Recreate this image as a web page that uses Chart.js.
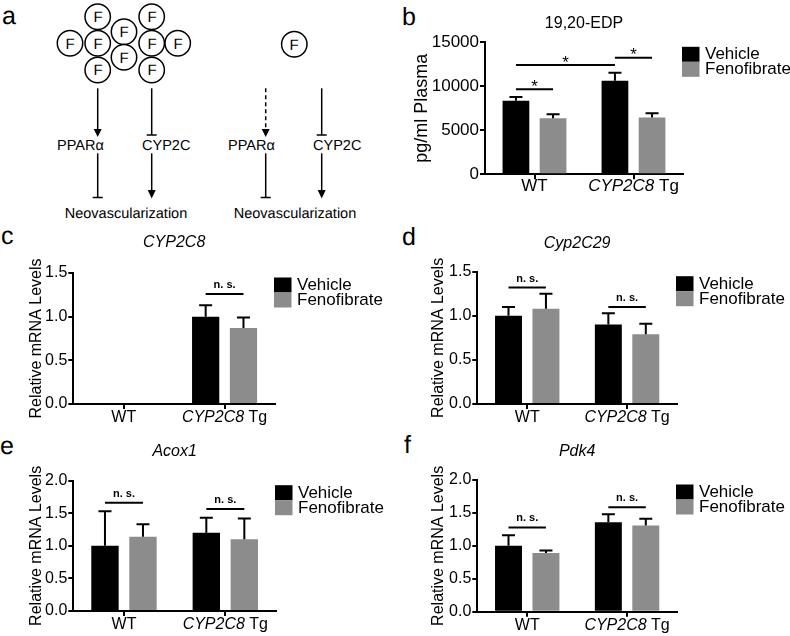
<!DOCTYPE html>
<html>
<head>
<meta charset="utf-8">
<script src="https://cdn.jsdelivr.net/npm/chart.js@4.4.1/dist/chart.umd.min.js"></script>
<style>
  html, body { margin: 0; padding: 0; background: #fff; }
  #fig { position: relative; width: 790px; height: 636px; overflow: hidden; font-family: "Liberation Sans", Arial, sans-serif; }
  #fig canvas { position: absolute; }
  #fig svg { position: absolute; left: 0; top: 0; }
  #fig svg text { fill: #000; }
</style>
</head>
<body>
<div id="fig">
  <svg width="790" height="636" font-family="Liberation Sans, Arial, sans-serif" text-rendering="geometricPrecision">
    <!-- letras de panel -->
    <g font-size="25">
      <text x="2" y="23.5">a</text>
      <text x="402" y="25">b</text>
      <text x="1" y="243.5">c</text>
      <text x="402" y="245">d</text>
      <text x="0" y="453.5">e</text>
      <text x="404" y="453">f</text>
    </g>
    <!-- esquema a -->
    <g stroke="#000" stroke-width="1.5" fill="#fff">
      <circle cx="97.7" cy="16.7" r="12.7"/>
      <circle cx="151.7" cy="16.7" r="12.7"/>
      <circle cx="124" cy="31.7" r="12.7"/>
      <circle cx="70" cy="43.3" r="12.7"/>
      <circle cx="97.7" cy="43.3" r="12.7"/>
      <circle cx="151.7" cy="43.3" r="12.7"/>
      <circle cx="177.7" cy="43.3" r="12.7"/>
      <circle cx="124" cy="57.3" r="12.7"/>
      <circle cx="97.7" cy="70" r="12.7"/>
      <circle cx="151.7" cy="70" r="12.7"/>
      <circle cx="294.3" cy="44.3" r="12.7"/>
    </g>
    <g font-size="15" text-anchor="middle">
      <text x="98" y="22">F</text>
      <text x="152" y="22">F</text>
      <text x="124" y="37">F</text>
      <text x="70" y="48.6">F</text>
      <text x="98" y="48.6">F</text>
      <text x="152" y="48.6">F</text>
      <text x="178" y="48.6">F</text>
      <text x="124" y="62.6">F</text>
      <text x="98" y="75.3">F</text>
      <text x="152" y="75.3">F</text>
      <text x="294" y="49.6">F</text>
    </g>
    <g stroke="#000" stroke-width="1.5" fill="none">
      <line x1="97.7" y1="88.3" x2="97.7" y2="130"/>
      <line x1="97.7" y1="153.3" x2="97.7" y2="197.5"/>
      <line x1="92.7" y1="197.5" x2="102.7" y2="197.5"/>
      <line x1="151.7" y1="88.3" x2="151.7" y2="135"/>
      <line x1="146.7" y1="135" x2="156.7" y2="135"/>
      <line x1="151.7" y1="153.3" x2="151.7" y2="191"/>
      <line x1="265.7" y1="88.3" x2="265.7" y2="130" stroke-dasharray="4 3"/>
      <line x1="265.7" y1="153.3" x2="265.7" y2="197.5"/>
      <line x1="260.7" y1="197.5" x2="270.7" y2="197.5"/>
      <line x1="321.7" y1="88.3" x2="321.7" y2="135"/>
      <line x1="316.7" y1="135" x2="326.7" y2="135"/>
      <line x1="321.7" y1="153.3" x2="321.7" y2="191"/>
    </g>
    <g fill="#000">
      <polygon points="93.7,129 101.7,129 97.7,137"/>
      <polygon points="147.7,190 155.7,190 151.7,198.5"/>
      <polygon points="261.7,129 269.7,129 265.7,137"/>
      <polygon points="317.7,190 325.7,190 321.7,198.5"/>
    </g>
    <g font-size="14.5">
      <text x="57" y="150.3">PPARα</text>
      <text x="142" y="150.3">CYP2C</text>
      <text x="228" y="150.3">PPARα</text>
      <text x="313" y="150.3">CYP2C</text>
      <text x="126" y="218" text-anchor="middle">Neovascularization</text>
      <text x="295" y="218" text-anchor="middle">Neovascularization</text>
    </g>
  </svg>
  <canvas id="panelB" width="390" height="205" style="left:400px;top:0px"></canvas>
  <canvas id="panelC" width="395" height="225" style="left:0px;top:210px"></canvas>
  <canvas id="panelD" width="395" height="225" style="left:395px;top:210px"></canvas>
  <canvas id="panelE" width="395" height="206" style="left:0px;top:430px"></canvas>
  <canvas id="panelF" width="395" height="206" style="left:395px;top:430px"></canvas>
</div>
<script>
const fam = '"Liberation Sans", Arial, sans-serif';
Chart.defaults.font.family = fam;
Chart.defaults.color = '#000';

const grupos = ['WT', 'CYP2C8 Tg'];
const series = ['Vehicle', 'Fenofibrate'];
const colores = ['#000000', '#8c8c8c'];

// b - 19,20-EDP (pg/ml)
const edpVehiculo = [8370, 10640];
const edpVehiculoErr = [420, 900];
const edpFeno = [6370, 6450];
const edpFenoErr = [450, 500];
const edpTicks = [0, 5000, 10000, 15000];
const edpSig = [
  { de: [0, 0], a: [1, 0], y: 9660, txt: '*' },
  { de: [0, 0], a: [0, 1], y: 12420, txt: '*' },
  { de: [0, 1], a: [1, 1], y: 13250, txt: '*' }
];

// c - CYP2C8
const cyp8Vehiculo = [null, 1.0];
const cyp8VehiculoErr = [null, 0.13];
const cyp8Feno = [null, 0.87];
const cyp8FenoErr = [null, 0.12];
const cyp8Sig = [{ de: [0, 1], a: [1, 1], y: 1.26, txt: 'n. s.' }];

// d - Cyp2C29
const cyp29Vehiculo = [1.0, 0.90];
const cyp29VehiculoErr = [0.10, 0.13];
const cyp29Feno = [1.08, 0.79];
const cyp29FenoErr = [0.17, 0.12];
const cyp29Sig = [
  { de: [0, 0], a: [1, 0], y: 1.32, txt: 'n. s.' },
  { de: [0, 1], a: [1, 1], y: 1.10, txt: 'n. s.' }
];

// e - Acox1
const acoxVehiculo = [1.0, 1.20];
const acoxVehiculoErr = [0.53, 0.23];
const acoxFeno = [1.14, 1.10];
const acoxFenoErr = [0.19, 0.32];
const acoxSig = [
  { de: [0, 0], a: [1, 0], y: 1.66, txt: 'n. s.' },
  { de: [0, 1], a: [1, 1], y: 1.565, txt: 'n. s.' }
];

// f - Pdk4
const pdkVehiculo = [1.0, 1.36];
const pdkVehiculoErr = [0.16, 0.12];
const pdkFeno = [0.89, 1.31];
const pdkFenoErr = [0.04, 0.10];
const pdkSig = [
  { de: [0, 0], a: [1, 0], y: 1.28, txt: 'n. s.' },
  { de: [0, 1], a: [1, 1], y: 1.585, txt: 'n. s.' }
];

const ticks15 = [0, 0.5, 1.0, 1.5];
const ticks20 = [0, 0.5, 1.0, 1.5, 2.0];

const paneles = [
  { id: 'panelB', cx: 400, cy: 0, area: { L: 485, T: 42.3, R: 683, B: 174.3 },
    vehiculo: edpVehiculo, feno: edpFeno, errores: [edpVehiculoErr, edpFenoErr], ticks: edpTicks, signif: edpSig,
    titulo: '19,20-EDP', italica: false, tituloDy: -19, tituloY: 'pg/ml Plasma', tituloYx: 422,
    fontTituloY: 18, fontEje: 17, etiquetaDy: 12, formato: v => String(v) },
  { id: 'panelC', cx: 0, cy: 210, area: { L: 73.3, T: 273, R: 275, B: 404 },
    vehiculo: cyp8Vehiculo, feno: cyp8Feno, errores: [cyp8VehiculoErr, cyp8FenoErr], ticks: ticks15, signif: cyp8Sig,
    titulo: 'CYP2C8', italica: true, tituloDy: -30, tituloY: 'Relative mRNA Levels', tituloYx: 37,
    fontTituloY: 16, fontEje: 16, etiquetaDy: 14, formato: v => v.toFixed(1) },
  { id: 'panelD', cx: 395, cy: 210, area: { L: 477.3, T: 271.7, R: 677, B: 404 },
    vehiculo: cyp29Vehiculo, feno: cyp29Feno, errores: [cyp29VehiculoErr, cyp29FenoErr], ticks: ticks15, signif: cyp29Sig,
    titulo: 'Cyp2C29', italica: true, tituloDy: -28.5, tituloY: 'Relative mRNA Levels', tituloYx: 439,
    fontTituloY: 16, fontEje: 16, etiquetaDy: 14, formato: v => v.toFixed(1) },
  { id: 'panelE', cx: 0, cy: 430, area: { L: 73.3, T: 480.7, R: 276, B: 611 },
    vehiculo: acoxVehiculo, feno: acoxFeno, errores: [acoxVehiculoErr, acoxFenoErr], ticks: ticks20, signif: acoxSig,
    titulo: 'Acox1', italica: true, tituloDy: -29, tituloY: 'Relative mRNA Levels', tituloYx: 37,
    fontTituloY: 16, fontEje: 16, etiquetaDy: 14, formato: v => v.toFixed(1) },
  { id: 'panelF', cx: 395, cy: 430, area: { L: 477.3, T: 480, R: 677, B: 611.7 },
    vehiculo: pdkVehiculo, feno: pdkFeno, errores: [pdkVehiculoErr, pdkFenoErr], ticks: ticks20, signif: pdkSig,
    titulo: 'Pdk4', italica: true, tituloDy: -28.5, tituloY: 'Relative mRNA Levels', tituloYx: 439,
    fontTituloY: 16, fontEje: 16, etiquetaDy: 14, formato: v => v.toFixed(1) }
];

// barras de error, lineas de significancia, titulo, etiquetas x y leyenda
function decoracion(p) {
  return {
    id: 'deco' + p.id,
    afterDatasetsDraw(chart) {
      const ctx = chart.ctx;
      const y = chart.scales.y;
      ctx.save();
      ctx.strokeStyle = '#000';
      ctx.fillStyle = '#000';
      ctx.lineWidth = 2;

      chart.data.datasets.forEach((ds, di) => {
        const meta = chart.getDatasetMeta(di);
        meta.data.forEach((bar, i) => {
          const v = ds.data[i];
          const e = p.errores[di][i];
          if (v == null || e == null) return;
          const yTop = y.getPixelForValue(v + e);
          ctx.beginPath();
          ctx.moveTo(bar.x, bar.y);
          ctx.lineTo(bar.x, yTop);
          ctx.moveTo(bar.x - 6.5, yTop);
          ctx.lineTo(bar.x + 6.5, yTop);
          ctx.stroke();
        });
      });

      p.signif.forEach(s => {
        const b1 = chart.getDatasetMeta(s.de[0]).data[s.de[1]];
        const b2 = chart.getDatasetMeta(s.a[0]).data[s.a[1]];
        const yy = y.getPixelForValue(s.y);
        const mid = (b1.x + b2.x) / 2;
        ctx.beginPath();
        ctx.moveTo(b1.x, yy);
        ctx.lineTo(b2.x, yy);
        ctx.stroke();
        ctx.textAlign = 'center';
        if (s.txt === '*') {
          ctx.font = '17px ' + fam;
          ctx.textBaseline = 'alphabetic';
          ctx.fillText(s.txt, mid, yy + 2.5);
        } else {
          ctx.font = 'bold 11px ' + fam;
          ctx.textBaseline = 'middle';
          ctx.fillText(s.txt, mid, yy - 9);
        }
      });
      ctx.restore();
    },
    afterDraw(chart) {
      const ctx = chart.ctx;
      const area = chart.chartArea;
      const x = chart.scales.x;
      ctx.save();
      ctx.fillStyle = '#000';

      // titulo
      ctx.font = (p.italica ? 'italic ' : '') + '16px ' + fam;
      ctx.textAlign = 'center';
      ctx.textBaseline = 'middle';
      ctx.fillText(p.titulo, (area.left + area.right) / 2, area.top + p.tituloDy);

      // etiquetas del eje x (gen en cursiva)
      const fNormal = p.fontEje + 'px ' + fam;
      const fItalica = 'italic ' + p.fontEje + 'px ' + fam;
      chart.data.labels.forEach((lab, i) => {
        const partes = lab.split(' ');
        const trozos = partes.length > 1
          ? [{ t: partes[0], f: fItalica }, { t: ' ' + partes.slice(1).join(' '), f: fNormal }]
          : [{ t: lab, f: fNormal }];
        let total = 0;
        trozos.forEach(tr => { ctx.font = tr.f; tr.w = ctx.measureText(tr.t).width; total += tr.w; });
        let cur = x.getPixelForValue(i) - total / 2;
        ctx.textAlign = 'left';
        trozos.forEach(tr => {
          ctx.font = tr.f;
          ctx.fillText(tr.t, cur, area.bottom + p.etiquetaDy);
          cur += tr.w;
        });
      });

      // leyenda
      const lx = area.right - 1;
      const ly = area.top + 4.5;
      ctx.font = '17px ' + fam;
      chart.data.datasets.forEach((ds, di) => {
        ctx.fillStyle = ds.backgroundColor;
        ctx.fillRect(lx, ly + di * 15, 17.5, 15);
        ctx.fillStyle = '#000';
        ctx.textAlign = 'left';
        ctx.textBaseline = 'middle';
        ctx.fillText(ds.label, lx + 23, ly + di * 15 + 8);
      });
      ctx.restore();
    }
  };
}

function crearPanel(p) {
  const canvas = document.getElementById(p.id);
  const cw = canvas.width;
  const ch = canvas.height;
  const medioTitulo = p.fontTituloY * 1.2 / 2;
  const padLeft = p.tituloYx - medioTitulo - p.cx;
  const anchoY = p.area.L - p.cx - padLeft;
  const altoX = 20;

  return new Chart(canvas, {
    type: 'bar',
    data: {
      labels: grupos,
      datasets: [
        { label: series[0], data: p.vehiculo, backgroundColor: colores[0], borderWidth: 0 },
        { label: series[1], data: p.feno, backgroundColor: colores[1], borderWidth: 0 }
      ]
    },
    options: {
      responsive: false,
      animation: false,
      devicePixelRatio: 1,
      datasets: { bar: { barPercentage: 0.72, categoryPercentage: 0.75 } },
      layout: {
        padding: {
          left: padLeft,
          top: p.area.T - p.cy,
          right: p.cx + cw - p.area.R,
          bottom: p.cy + ch - p.area.B - altoX
        }
      },
      plugins: {
        legend: { display: false },
        tooltip: { enabled: false },
        title: { display: false }
      },
      scales: {
        x: {
          grid: { display: true, drawOnChartArea: false, drawTicks: true, tickLength: 5, color: '#000', lineWidth: 2, offset: false },
          border: { display: true, color: '#000', width: 2 },
          ticks: { display: false },
          afterFit: s => { s.height = altoX; }
        },
        y: {
          min: p.ticks[0],
          max: p.ticks[p.ticks.length - 1],
          ticks: {
            stepSize: p.ticks[1] - p.ticks[0],
            font: { size: p.fontEje },
            color: '#000',
            padding: 1,
            callback: v => p.formato(v)
          },
          grid: { display: true, drawOnChartArea: false, drawTicks: true, tickLength: 5, color: '#000', lineWidth: 2 },
          border: { display: true, color: '#000', width: 2 },
          title: { display: true, text: p.tituloY, color: '#000', font: { size: p.fontTituloY }, padding: { top: 0, bottom: 0 } },
          afterFit: s => { s.width = anchoY; }
        }
      }
    },
    plugins: [decoracion(p)]
  });
}

paneles.forEach(crearPanel);
</script>
</body>
</html>
